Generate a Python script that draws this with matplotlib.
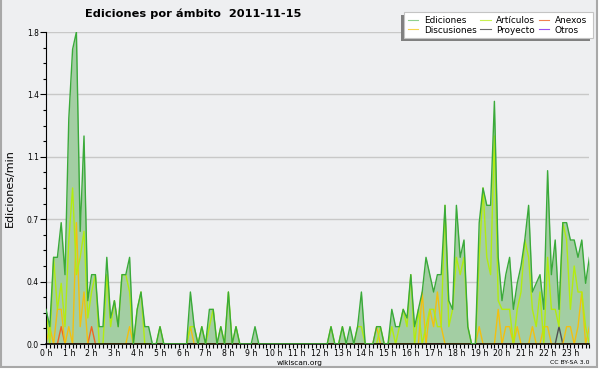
import numpy as np
import matplotlib
matplotlib.use('Agg')
from matplotlib import pyplot as plt
from matplotlib.patches import Rectangle
from matplotlib.lines import Line2D

W, H = 600, 370

####################################
#   datos: ediciones/min, tramos de 10 min (12 por fila = 2 horas)
####################################
horas = ['%d h' % h for h in range(24)]

ediciones = [0.2, 0.1, 0.5, 0.5, 0.7, 0.4, 1.3, 1.7, 1.8, 0.65, 1.2, 0.25,
             0.4, 0.4, 0.1, 0.1, 0.5, 0.15, 0.25, 0.1, 0.4, 0.4, 0.5, 0.0,
             0.2, 0.3, 0.1, 0.1, 0.0, 0.0, 0.1, 0.0, 0.0, 0.0, 0.0, 0.0,
             0.0, 0.0, 0.3, 0.1, 0.0, 0.1, 0.0, 0.2, 0.2, 0.0, 0.1, 0.0,
             0.3, 0.0, 0.1, 0.0, 0.0, 0.0, 0.0, 0.1, 0.0, 0.0, 0.0, 0.0,
             0.0, 0.0, 0.0, 0.0, 0.0, 0.0, 0.0, 0.0, 0.0, 0.0, 0.0, 0.0,
             0.0, 0.0, 0.0, 0.1, 0.0, 0.0, 0.1, 0.0, 0.1, 0.0, 0.1, 0.3,
             0.0, 0.0, 0.0, 0.1, 0.1, 0.0, 0.0, 0.2, 0.1, 0.1, 0.2, 0.15,
             0.4, 0.1, 0.2, 0.3, 0.5, 0.4, 0.3, 0.4, 0.4, 0.8, 0.25, 0.2,
             0.8, 0.5, 0.6, 0.1, 0.0, 0.0, 0.7, 0.9, 0.8, 0.8, 1.4, 0.5,
             0.25, 0.4, 0.5, 0.2, 0.35, 0.45, 0.6, 0.8, 0.3, 0.35, 0.4, 0.2,
             1.0, 0.4, 0.6, 0.2, 0.7, 0.7, 0.6, 0.6, 0.5, 0.6, 0.35, 0.5]

articulos = [0.2, 0.0, 0.5, 0.2, 0.35, 0.1, 0.6, 0.9, 0.4, 0.5, 0.65, 0.15,
             0.3, 0.4, 0.0, 0.0, 0.4, 0.1, 0.25, 0.1, 0.4, 0.4, 0.3, 0.0,
             0.2, 0.3, 0.0, 0.0, 0.0, 0.0, 0.1, 0.0, 0.0, 0.0, 0.0, 0.0,
             0.0, 0.0, 0.1, 0.1, 0.0, 0.1, 0.0, 0.1, 0.2, 0.0, 0.1, 0.0,
             0.3, 0.0, 0.1, 0.0, 0.0, 0.0, 0.0, 0.0, 0.0, 0.0, 0.0, 0.0,
             0.0, 0.0, 0.0, 0.0, 0.0, 0.0, 0.0, 0.0, 0.0, 0.0, 0.0, 0.0,
             0.0, 0.0, 0.0, 0.1, 0.0, 0.0, 0.1, 0.0, 0.0, 0.0, 0.1, 0.1,
             0.0, 0.0, 0.0, 0.0, 0.1, 0.0, 0.0, 0.1, 0.0, 0.1, 0.2, 0.1,
             0.4, 0.0, 0.2, 0.0, 0.1, 0.2, 0.2, 0.1, 0.1, 0.8, 0.1, 0.2,
             0.5, 0.4, 0.5, 0.1, 0.0, 0.0, 0.5, 0.9, 0.5, 0.4, 1.2, 0.25,
             0.2, 0.2, 0.2, 0.0, 0.2, 0.3, 0.6, 0.5, 0.2, 0.1, 0.3, 0.0,
             0.5, 0.2, 0.2, 0.1, 0.7, 0.6, 0.2, 0.45, 0.3, 0.3, 0.1, 0.0]

discusiones = [0.0, 0.1, 0.0, 0.2, 0.2, 0.0, 0.1, 0.0, 0.7, 0.1, 0.3, 0.0,
               0.0, 0.0, 0.0, 0.0, 0.0, 0.0, 0.0, 0.0, 0.0, 0.0, 0.1, 0.0,
               0.0, 0.0, 0.0, 0.0, 0.0, 0.0, 0.0, 0.0, 0.0, 0.0, 0.0, 0.0,
               0.0, 0.0, 0.1, 0.0, 0.0, 0.0, 0.0, 0.0, 0.0, 0.0, 0.0, 0.0,
               0.0, 0.0, 0.0, 0.0, 0.0, 0.0, 0.0, 0.0, 0.0, 0.0, 0.0, 0.0,
               0.0, 0.0, 0.0, 0.0, 0.0, 0.0, 0.0, 0.0, 0.0, 0.0, 0.0, 0.0,
               0.0, 0.0, 0.0, 0.0, 0.0, 0.0, 0.0, 0.0, 0.0, 0.0, 0.0, 0.0,
               0.0, 0.0, 0.0, 0.1, 0.0, 0.0, 0.0, 0.0, 0.0, 0.0, 0.0, 0.0,
               0.0, 0.0, 0.0, 0.3, 0.0, 0.2, 0.1, 0.3, 0.1, 0.0, 0.0, 0.0,
               0.0, 0.0, 0.0, 0.0, 0.0, 0.0, 0.1, 0.0, 0.0, 0.0, 0.0, 0.2,
               0.0, 0.1, 0.1, 0.0, 0.1, 0.0, 0.0, 0.0, 0.1, 0.0, 0.0, 0.1,
               0.1, 0.0, 0.0, 0.0, 0.0, 0.1, 0.1, 0.0, 0.1, 0.3, 0.0, 0.1]

anexos = [0.0] * 144
anexos[4] = 0.1
anexos[12] = 0.1

proyecto = [0.0] * 144
proyecto[135] = 0.1

otros = [0.0] * 144

bg = '#eeeff1'


def px(x, y):
    # pixel (origen arriba-izquierda) -> fraccion de figura
    return x / W, 1 - y / H


fig = plt.figure(figsize=(6, 3.7), dpi=100)
fig.patch.set_facecolor('white')
fig.add_artist(Rectangle(px(0.5, 367), 596.5 / W, 367 / H + 0.01, transform=fig.transFigure,
                         facecolor=bg, edgecolor='#a8a8a8', linewidth=1.5, zorder=0))

ax = fig.add_axes([46 / W, 26 / H, (589.4 - 46) / W, 312 / H])
ax.set_facecolor(bg)
x = np.arange(len(ediciones))

ax.fill_between(x, ediciones, color='#a3cea3', lw=0, zorder=1)
ax.plot(x, otros, color='#9944ee', lw=1.0, zorder=2)
ax.plot(x, proyecto, color='#505050', lw=1.0, zorder=2)
ax.plot(x, anexos, color='#ee6622', lw=1.0, zorder=2)
ax.plot(x, discusiones, color='#f2c010', lw=1.0, zorder=2)
ax.plot(x, articulos, color='#b2ec10', lw=1.0, zorder=2)
ax.plot(x, ediciones, color='#3aaa3a', lw=1.0, zorder=3)

ax.set_xlim(0, 143)
ax.set_ylim(0, 1.8)
yt = np.linspace(0, 1.8, 6)
ax.set_yticks(yt)
ax.set_yticklabels(['%.1f' % v for v in yt])
ax.set_yticks(np.arange(0, 1.81, 0.09), minor=True)
ax.set_xticks(np.arange(0, 144, 6))
ax.set_xticklabels(horas)
ax.set_xticks(np.arange(0, 144, 1), minor=True)

ax.set_axisbelow(True)
ax.yaxis.grid(True, which='major', color='#c8c8c8', lw=1.0)
ax.tick_params(axis='x', which='both', direction='out', length=3, width=0.8,
               labelsize=5.6, pad=0.8)
ax.tick_params(axis='y', which='major', direction='out', length=4, width=0.8,
               labelsize=5.5, pad=1)
ax.tick_params(axis='y', which='minor', direction='out', length=2.5, width=0.8)
for s in ['top', 'right']:
    ax.spines[s].set_visible(False)
ax.spines['left'].set_linewidth(0.8)
ax.spines['bottom'].set_linewidth(1.1)

fig.text(*px(85, 14), 'Ediciones por ámbito  2011-11-15', fontsize=8.2,
         fontweight='bold', ha='left', va='center')
fig.text(*px(10, 188), 'Ediciones/min', rotation=90, ha='center', va='center', fontsize=8)
fig.text(*px(300, 362.5), 'wikiscan.org', ha='center', va='center', fontsize=5.3)
fig.text(*px(589, 362.5), 'CC BY-SA 3.0', ha='right', va='center', fontsize=4.4)

# leyenda con sombra
fig.add_artist(Rectangle(px(401, 41), 189 / W, 26 / H, transform=fig.transFigure,
                         facecolor='#808080', edgecolor='none', zorder=1))
fig.add_artist(Rectangle(px(404, 38), 189 / W, 26 / H, transform=fig.transFigure,
                         facecolor='white', edgecolor='#c4c4c4', lw=0.8, zorder=1.5))
nombres = ['Ediciones', 'Discusiones', 'Artículos', 'Proyecto', 'Anexos', 'Otros']
colores = ['#8fd08f', '#f6d44a', '#c8f050', '#6a6a6a', '#f08050', '#9a50f0']
handles = [Line2D([], [], color=c, lw=0.8) for c in colores]
fig.legend(handles, nombres, loc='upper left', bbox_to_anchor=px(405.5, 13), ncol=3,
           frameon=False, fontsize=6.4, handlelength=1.15, handletextpad=0.6,
           columnspacing=0.45, labelspacing=0.1, borderpad=0.3, borderaxespad=0)

fig.savefig('out.png', dpi=100, facecolor=fig.get_facecolor())
